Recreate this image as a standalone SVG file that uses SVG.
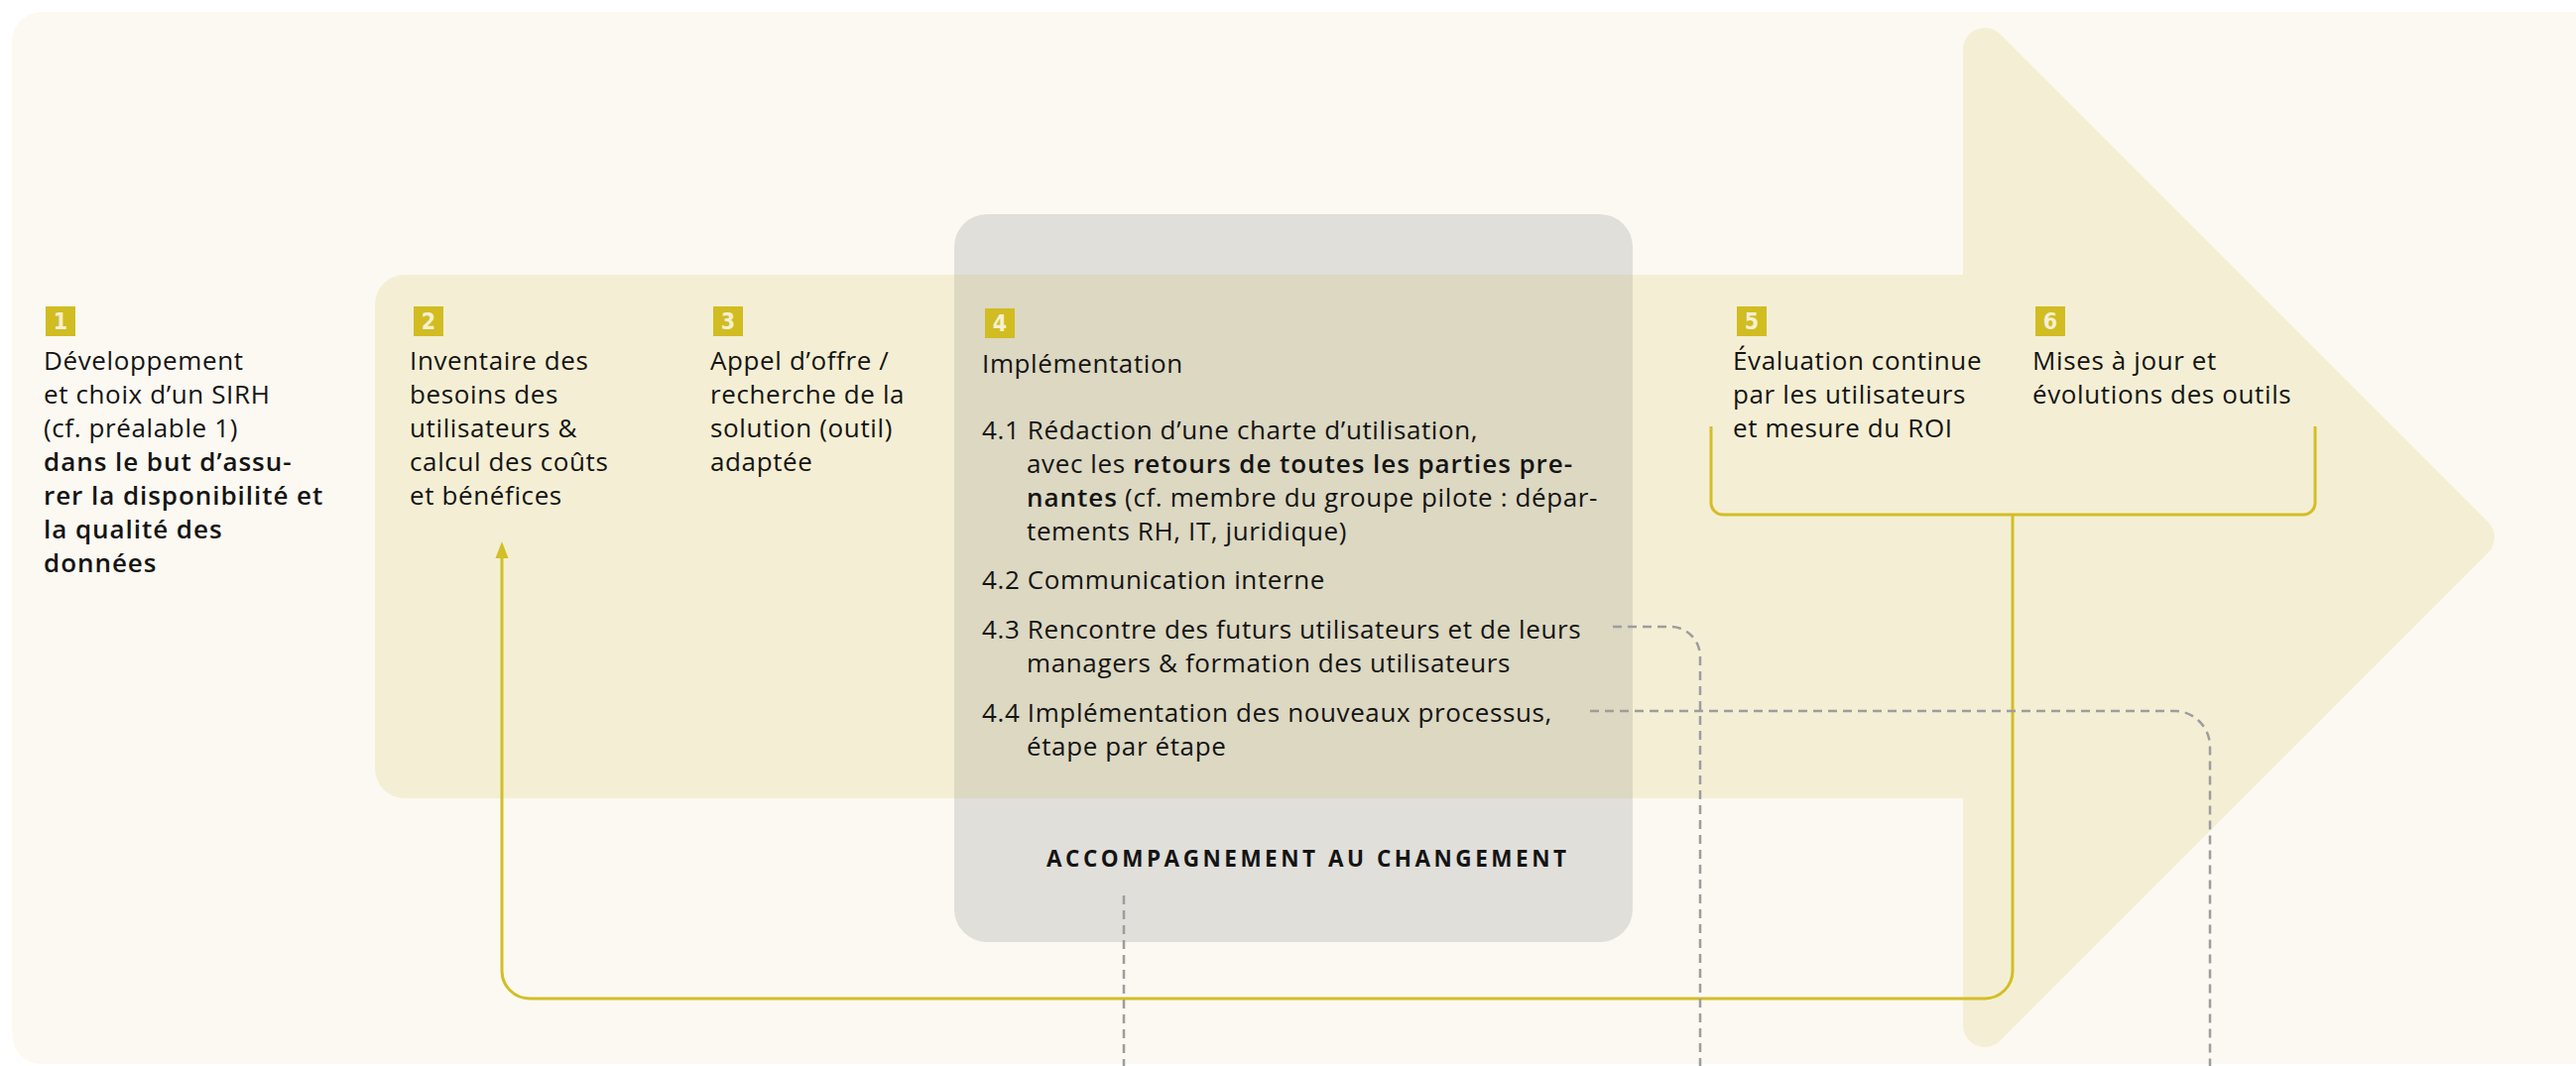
<svg xmlns="http://www.w3.org/2000/svg" width="2597" height="1075" viewBox="0 0 2597 1075">
  <style>
    .t { font-family: "Open Sans", "Noto Sans", "DejaVu Sans", sans-serif; font-size: 26px; fill: #141414; letter-spacing: 0.62px; }
    .b { font-weight: 600; letter-spacing: 0.95px; }
    .badge { fill: #D1BC22; }
    .num { font-family: "DejaVu Sans Condensed", "DejaVu Sans", sans-serif; font-stretch: condensed; font-weight: bold; font-size: 23px; fill: #F6F0D2; text-anchor: middle; }
    .acc { font-family: "Open Sans", "Noto Sans", "DejaVu Sans", sans-serif; font-size: 22.5px; font-weight: 700; fill: #141414; }
    .yl { fill: none; stroke: #D3BE26; stroke-width: 3; }
    .dash { fill: none; stroke: #9D9D9D; stroke-width: 2.5; stroke-dasharray: 9 6; }
  </style>

  <g id="background">
    <rect x="12" y="12" width="2640" height="1061" rx="30" fill="#FCF9F2"/>
    <path d="M408,277 H1979 V50 A22,22 0 0 1 2016.5,34.5 L2508.4,526.4 A22,22 0 0 1 2508.4,557.6 L2016.5,1049.5 A22,22 0 0 1 1979,1034 V805 H408 A30,30 0 0 1 378,775 V307 A30,30 0 0 1 408,277 Z" fill="#F4EFD4"/>
    <rect x="962" y="216" width="684" height="734" rx="33" fill="#E0DFDA"/>
    <rect x="962" y="277" width="684" height="528" fill="#DCD8C2"/>
  </g>

  <g id="connectors">
    <path class="yl" d="M1725,430 V507 A12,12 0 0 0 1737,519 H2322 A12,12 0 0 0 2334,507 V430"/>
    <path class="yl" d="M2029,519 V979 A28,28 0 0 1 2001,1007 H534 A28,28 0 0 1 506,979 V560"/>
    <path d="M506,546 L512.5,563 L499.5,563 Z" fill="#D3BE26"/>
    <path class="dash" d="M1133,903 V1075"/>
    <path class="dash" d="M1626,632 H1684 A30,30 0 0 1 1714,662 V1075"/>
    <path class="dash" d="M1603,717 H2192 A36,36 0 0 1 2228,753 V1075"/>
  </g>

  <g id="step1">
    <rect class="badge" x="46" y="309" width="30" height="30"/>
    <text class="num" x="61" y="332">1</text>
    <text class="t" x="44" y="373">Développement</text>
    <text class="t" x="44" y="407">et choix d’un SIRH</text>
    <text class="t" x="44" y="441">(cf. préalable 1)</text>
    <text class="t b" x="44" y="475">dans le but d’assu-</text>
    <text class="t b" x="44" y="509">rer la disponibilité et</text>
    <text class="t b" x="44" y="543">la qualité des</text>
    <text class="t b" x="44" y="577">données</text>
  </g>

  <g id="step2">
    <rect class="badge" x="417" y="309" width="30" height="30"/>
    <text class="num" x="432" y="332">2</text>
    <text class="t" x="413" y="373">Inventaire des</text>
    <text class="t" x="413" y="407">besoins des</text>
    <text class="t" x="413" y="441">utilisateurs &amp;</text>
    <text class="t" x="413" y="475">calcul des coûts</text>
    <text class="t" x="413" y="509">et bénéfices</text>
  </g>

  <g id="step3">
    <rect class="badge" x="719" y="309" width="30" height="30"/>
    <text class="num" x="734" y="332">3</text>
    <text class="t" x="716" y="373">Appel d’offre /</text>
    <text class="t" x="716" y="407">recherche de la</text>
    <text class="t" x="716" y="441">solution (outil)</text>
    <text class="t" x="716" y="475">adaptée</text>
  </g>

  <g id="step4">
    <rect class="badge" x="993" y="311" width="30" height="30"/>
    <text class="num" x="1008" y="334">4</text>
    <text class="t" x="990" y="376">Implémentation</text>
    <text class="t" x="990" y="443">4.1 Rédaction d’une charte d’utilisation,</text>
    <text class="t" x="1035" y="477">avec les <tspan class="b">retours de toutes les parties pre-</tspan></text>
    <text class="t" x="1035" y="511"><tspan class="b">nantes</tspan> (cf. membre du groupe pilote : dépar-</text>
    <text class="t" x="1035" y="545">tements RH, IT, juridique)</text>
    <text class="t" x="990" y="594">4.2 Communication interne</text>
    <text class="t" x="990" y="644">4.3 Rencontre des futurs utilisateurs et de leurs</text>
    <text class="t" x="1035" y="678">managers &amp; formation des utilisateurs</text>
    <text class="t" x="990" y="728">4.4 Implémentation des nouveaux processus,</text>
    <text class="t" x="1035" y="762">étape par étape</text>
  </g>

  <g id="accompagnement">
    <text class="acc" x="1055" y="874" textLength="524" lengthAdjust="spacing">ACCOMPAGNEMENT AU CHANGEMENT</text>
  </g>

  <g id="step5">
    <rect class="badge" x="1751" y="309" width="30" height="30"/>
    <text class="num" x="1766" y="332">5</text>
    <text class="t" x="1747" y="373">Évaluation continue</text>
    <text class="t" x="1747" y="407">par les utilisateurs</text>
    <text class="t" x="1747" y="441">et mesure du ROI</text>
  </g>

  <g id="step6">
    <rect class="badge" x="2052" y="309" width="30" height="30"/>
    <text class="num" x="2067" y="332">6</text>
    <text class="t" x="2049" y="373">Mises à jour et</text>
    <text class="t" x="2049" y="407">évolutions des outils</text>
  </g>
</svg>
